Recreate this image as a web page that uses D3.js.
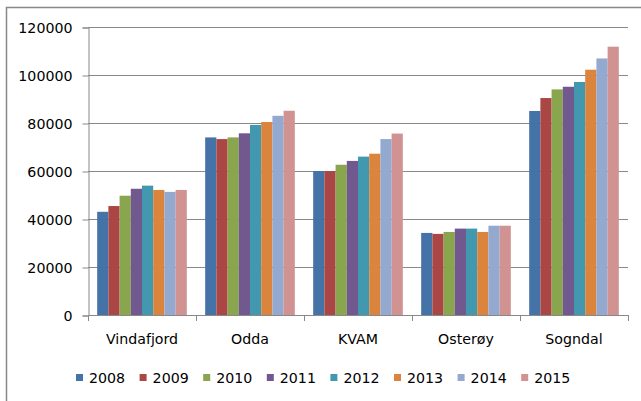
<!DOCTYPE html>
<html><head><meta charset="utf-8">
<script src="https://cdn.jsdelivr.net/npm/d3@7"></script>
<style>body{margin:0;background:#fff}svg{display:block}text{font-family:"DejaVu Sans",sans-serif;fill:#000}</style>
</head><body><svg id="c" width="641" height="401"></svg>
<script>
const categories = ["Vindafjord","Odda","KVAM","Osterøy","Sogndal"];
const years = ["2008","2009","2010","2011","2012","2013","2014","2015"];
const v2008 = [43000, 74000, 60000, 34200, 85000];
const v2009 = [45400, 73300, 60000, 33800, 90400];
const v2010 = [49700, 74000, 62600, 34600, 94000];
const v2011 = [52600, 75700, 64200, 36000, 95100];
const v2012 = [53900, 79200, 66000, 36000, 97100];
const v2013 = [52100, 80400, 67200, 34600, 102200];
const v2014 = [51300, 83000, 73300, 37200, 106900];
const v2015 = [52100, 85100, 75600, 37200, 111800];
const seriesValues = [v2008,v2009,v2010,v2011,v2012,v2013,v2014,v2015];
const colors = ["#4572A7","#AA4643","#89A54E","#71588F","#4198AF","#DB843D","#93A9CF","#D19392"];
const yTicks = [0,20000,40000,60000,80000,100000,120000];

const svg = d3.select("#c");
const pL = 88, pR = 628, pT = 27, pB = 315;
const grey = "#888";
const fs = 14.2;

// outer border (left & top visible)
svg.append("path").attr("d","M6.5,401 V7.5 H641").attr("fill","none").attr("stroke",grey).attr("stroke-width",1.5);

const x0 = d3.scaleBand().domain(categories).range([pL,pR]).paddingInner(0.17).paddingOuter(0.085);
const x1 = d3.scaleBand().domain(years).range([0,x0.bandwidth()]);
const y = d3.scaleLinear().domain([0,120000]).range([pB,pT]);

// gridlines
svg.append("g").selectAll("line").data(yTicks.slice(1)).join("line")
  .attr("x1",pL).attr("x2",pR).attr("y1",d=>Math.round(y(d))+0.5).attr("y2",d=>Math.round(y(d))+0.5)
  .attr("stroke",grey).attr("stroke-width",1);

// y axis
const ya = svg.append("g").attr("transform",`translate(${pL+0.5},0.5)`)
  .call(d3.axisLeft(y).tickValues(yTicks).tickFormat(d3.format("d")).tickSize(6).tickPadding(10));
ya.select(".domain").attr("stroke",grey);
ya.selectAll(".tick line").attr("stroke",grey);
ya.selectAll("text").attr("font-size",fs).attr("font-family","DejaVu Sans, sans-serif").attr("fill","#000");

// bars
const groups = svg.append("g").selectAll("g").data(years).join("g").attr("fill",(d,i)=>colors[i]);
groups.selectAll("rect").data((d,i)=>seriesValues[i].map((v,j)=>({cat:categories[j],yr:d,v})))
  .join("rect")
  .attr("x",d=>x0(d.cat)+x1(d.yr)).attr("width",x1.bandwidth())
  .attr("y",d=>y(d.v)).attr("height",d=>pB-y(d.v));

// x axis
const xa = svg.append("g");
xa.append("line").attr("x1",pL).attr("x2",pR).attr("y1",pB+0.5).attr("y2",pB+0.5).attr("stroke",grey);
xa.selectAll("line.t").data([pL,...categories.map((c,i)=>pL+(pR-pL)/categories.length*(i+1))]).join("line")
  .attr("class","t").attr("x1",d=>Math.round(d)+0.5).attr("x2",d=>Math.round(d)+0.5).attr("y1",pB).attr("y2",pB+6).attr("stroke",grey);
xa.selectAll("text").data(categories).join("text")
  .attr("x",c=>x0(c)+x0.bandwidth()/2).attr("y",344).attr("text-anchor","middle").attr("font-size",fs).text(c=>c);

// legend
const leg = svg.append("g").selectAll("g").data(years).join("g")
  .attr("transform",(d,i)=>`translate(${76+i*63.6},374)`);
leg.append("rect").attr("width",7).attr("height",7).attr("fill",(d,i)=>colors[i]);
leg.append("text").attr("x",13).attr("y",9).attr("font-size",fs).text(d=>d);
</script></body></html>
